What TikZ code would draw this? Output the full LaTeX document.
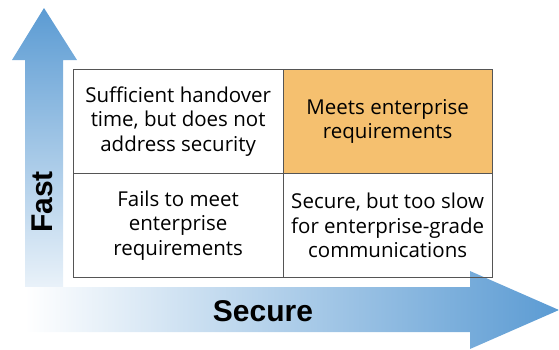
\documentclass[tikz,border=0pt]{standalone}
\usepackage{fontspec}
\setmainfont{Open Sans}
\newfontfamily\axisfont{Liberation Sans}
\definecolor{axisblue}{HTML}{5B9BD3}
\definecolor{goodcell}{HTML}{F5C06F}
\definecolor{gridline}{HTML}{555555}
\begin{document}
\begin{tikzpicture}[x=1pt,y=-1pt,
  cell/.style={draw=gridline, line width=0.8pt, minimum width=209.5pt,
    minimum height=104pt, inner sep=0pt, anchor=north west, align=center,
    font=\fontsize{20.5}{24.5}\selectfont},
  axislabel/.style={font=\axisfont\bfseries\fontsize{30}{30}\selectfont}]
\useasboundingbox (0,0) rectangle (559,349);

% vertical axis arrow, fading downwards
\shade[top color=axisblue, bottom color=white]
  (25,330) -- (25,60) -- (12,60) -- (44,8) -- (77,60) -- (63,60) -- (63,330) -- cycle;
% horizontal axis arrow, fading to the left
\shade[left color=white, right color=axisblue]
  (25,287) -- (470,287) -- (470,271) -- (559,310) -- (470,349) -- (470,332) -- (25,332) -- cycle;

% quadrant grid
\node[cell] (tl) at (73,69) {Sufficient handover\\time, but does not\\address security};
\node[cell, fill=goodcell] (tr) at (282.5,69) {Meets enterprise\\requirements};
\node[cell] (bl) at (73,173) {Fails to meet\\enterprise\\requirements};
\node[cell] (br) at (282.5,173) {Secure, but too slow\\for enterprise-grade\\communications};

% axis labels
\node[axislabel, rotate=90] (fast) at (42,202) {Fast};
\node[axislabel] (secure) at (263,311) {Secure};
\end{tikzpicture}
\end{document}
